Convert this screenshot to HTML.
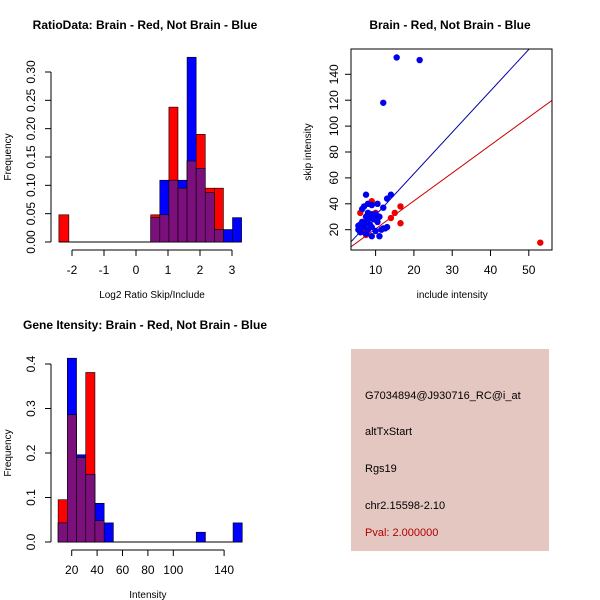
<!DOCTYPE html>
<html><head><meta charset="utf-8"><style>
body{margin:0;background:#fff}
svg{display:block;font-family:"Liberation Sans",sans-serif}
</style></head><body>
<svg id="s" width="600" height="600" viewBox="0 0 600 600" xmlns="http://www.w3.org/2000/svg">
<text x="145" y="29" font-size="12" font-weight="bold" text-anchor="middle">RatioData: Brain - Red, Not Brain - Blue</text>
<text x="450" y="29" font-size="12" font-weight="bold" text-anchor="middle">Brain - Red, Not Brain - Blue</text>
<text x="145" y="329" font-size="12" font-weight="bold" text-anchor="middle">Gene Itensity: Brain - Red, Not Brain - Blue</text>
<g id="g1"></g>
<g id="g2"></g>
<g id="g3"></g>
<g>
<rect x="351" y="349" width="198" height="202" fill="#e5c7c1"/>
<g font-size="11">
<text x="365" y="399">G7034894@J930716_RC@i_at</text>
<text x="365" y="435">altTxStart</text>
<text x="365" y="472">Rgs19</text>
<text x="365" y="509">chr2.15598-2.10</text>
<text x="365" y="536" fill="#b00000">Pval: 2.000000</text>
</g></g>
</svg>
<script>
// Ratio histogram data
const ratioRedOutlier = [-2.41, 0.048];
const ratioBinStart = 0.46;
const ratioBinWidth = 0.284;
const ratioRed = [0.048,0.048,0.238,0.095,0.143,0.19,0.095,0.095,0,0];
const ratioBlue = [0.043,0.109,0.109,0.109,0.326,0.13,0.087,0.022,0.022,0.043];
const ratioXTicks = [-2,-1,0,1,2,3];
const ratioYTicks = ["0.00","0.05","0.10","0.15","0.20","0.25","0.30"];
// Scatter data
const blueX = [15.5,21.5,12,7.5,14,13,12,8,9,10.5,7,6.5,9,10,11,8,6,7,5.5,6,8,9,10,11,9,12,13,7.5,9.5,10.5,8.5,6.5,7,11.5,8,6,5.5,7.5,9,10,12.5];
const blueY = [153,151,118,47,47,44,37,40,39,40,38,36,32,30,30,28,22,25,20,18,20,22,19,15,15,21,22,30,28,26,24,26,22,20,33,24,23,17,31,32,21];
const redX = [53,16.5,15,14,16.5,9,6,6.5,7,7.5,7.5,6.5,10,8];
const redY = [10,38,33,29,25,42,33,26,18,16,18,20,33,30];
const blueSlope = 3.2, blueIntercept = -0.8;
const redSlope = 2.155, redIntercept = -0.9;
const scatXTicks = [10,20,30,40,50];
const scatYTicks = [20,40,60,80,100,120,140];
// Intensity histogram data
const intBinStart = 9.3;
const intBinWidth = 7.25;
const intRed = [0.095,0.286,0.19,0.381,0.048,0,0,0,0,0,0,0,0,0,0,0,0,0,0,0];
const intBlue = [0.043,0.413,0.196,0.152,0.087,0.043,0,0,0,0,0,0,0,0,0,0.022,0,0,0,0.043];
const intXTicks = [20,40,60,80,100,140];
const intYTicks = ["0.0","0.1","0.2","0.3","0.4"];

const NS="http://www.w3.org/2000/svg";
function mk(parent,tag,attrs){const e=document.createElementNS(NS,tag);for(const k in attrs)e.setAttribute(k,attrs[k]);parent.appendChild(e);return e;}
const PURPLE="#7b0f7b";

function histo(g,x,y,start,w,red,blue,prefix){
  const y0=y(0);
  red.forEach((v,i)=>{if(v<=0)return;const a=x(start+i*w),b=x(start+(i+1)*w);
    const r=mk(g,'rect',{x:a,y:y(v),width:b-a,height:y0-y(v),fill:'#ff0000',stroke:'#000','stroke-width':0.6});
    
    });
  blue.forEach((v,i)=>{if(v<=0)return;const a=x(start+i*w),b=x(start+(i+1)*w);
    const r=mk(g,'rect',{x:a,y:y(v),width:b-a,height:y0-y(v),fill:'#0000ff',stroke:'#000','stroke-width':0.6});
    
    });
  red.forEach((v,i)=>{const m=Math.min(v,blue[i]);if(m<=0)return;const a=x(start+i*w),b=x(start+(i+1)*w);
    const r=mk(g,'rect',{x:a,y:y(m),width:b-a,height:y0-y(m),fill:PURPLE,stroke:'#000','stroke-width':0.6});
    
    });
}
function yAxis(g,xPos,y,ticks,label,lx,off){
  const vals=ticks.map(Number);
  mk(g,'line',{x1:xPos,x2:xPos,y1:y(vals[0]),y2:y(vals[vals.length-1]),stroke:'#000'});
  ticks.forEach(t=>{const yy=y(Number(t));mk(g,'line',{x1:xPos-6,x2:xPos,y1:yy,y2:yy,stroke:'#000'});
    const tx=mk(g,'text',{x:xPos-off,y:yy,'font-size':12,'text-anchor':'middle',transform:`rotate(-90 ${xPos-off} ${yy})`});tx.textContent=t;
    
    });
  const my=(y(vals[0])+y(vals[vals.length-1]))/2;
  const l=mk(g,'text',{x:lx,y:my,'font-size':10,'text-anchor':'middle',transform:`rotate(-90 ${lx} ${my})`});l.textContent=label;
  
  
}
function xAxis(g,yPos,x,ticks,label,ly){
  mk(g,'line',{x1:x(ticks[0]),x2:x(ticks[ticks.length-1]),y1:yPos,y2:yPos,stroke:'#000'});
  ticks.forEach(t=>{const xx=x(t);mk(g,'line',{x1:xx,x2:xx,y1:yPos,y2:yPos+6,stroke:'#000'});
    const tx=mk(g,'text',{x:xx,y:yPos+24,'font-size':12,'text-anchor':'middle'});tx.textContent=t;
    
    });
  const l=mk(g,'text',{x:(x(ticks[0])+x(ticks[ticks.length-1]))/2,y:ly,'font-size':10,'text-anchor':'middle'});l.textContent=label;
  
  
}

// Plot 1
{const g=document.getElementById('g1');
 const x=v=>136+v*32, y=v=>242-v*566.7;
 const r=mk(g,'rect',{x:x(ratioRedOutlier[0]),y:y(ratioRedOutlier[1]),width:ratioBinWidth*32*1.1,height:242-y(ratioRedOutlier[1]),fill:'#ff0000',stroke:'#000','stroke-width':0.6});
 
 
 mk(g,'line',{x1:x(ratioRedOutlier[0]),x2:x(ratioBinStart+ratioBlue.length*ratioBinWidth),y1:242,y2:242,stroke:'#000'});
 histo(g,x,y,ratioBinStart,ratioBinWidth,ratioRed,ratioBlue,'ratio');
 yAxis(g,51,y,ratioYTicks,'Frequency',11,16);
 xAxis(g,250,x,ratioXTicks,'Log2 Ratio Skip/Include',298);}

// Plot 2
{const g=document.getElementById('g2');
 const x=v=>337.3+v*3.83, y=v=>255.6-v*1.295;
 mk(g,'defs',{}).innerHTML='<clipPath id="cp"><rect x="351" y="49" width="201" height="201"/></clipPath>';
 const lg=mk(g,'g',{'clip-path':'url(#cp)'});
 const bl=mk(lg,'line',{x1:x(0),y1:y(blueIntercept),x2:x(60),y2:y(blueIntercept+blueSlope*60),stroke:'#0000aa','stroke-width':1});
 
 
 const rl=mk(lg,'line',{x1:x(0),y1:y(redIntercept),x2:x(60),y2:y(redIntercept+redSlope*60),stroke:'#cc0000','stroke-width':1});
 
 
 redX.forEach((v,i)=>{const c=mk(g,'circle',{cx:x(v),cy:y(redY[i]),r:3.2,fill:'#ee0000'});
   
   });
 blueX.forEach((v,i)=>{const c=mk(g,'circle',{cx:x(v),cy:y(blueY[i]),r:3.2,fill:'#0000ee'});
   
   });
 mk(g,'rect',{x:351,y:49,width:201,height:201,fill:'none',stroke:'#000'});
 xAxis(g,250,x,scatXTicks,'include intensity',298);
 yAxis(g,351,y,scatYTicks,'skip intensity',311,13);}

// Plot 3
{const g=document.getElementById('g3');
 const x=v=>46.3+v*1.27, y=v=>542-v*445;
 mk(g,'line',{x1:x(intBinStart),x2:x(intBinStart+intBlue.length*intBinWidth),y1:542,y2:542,stroke:'#000'});
 histo(g,x,y,intBinStart,intBinWidth,intRed,intBlue,'intensity');
 yAxis(g,51,y,intYTicks,'Frequency',11,16);
 xAxis(g,550,x,intXTicks,'Intensity',598);}
</script>
</body></html>
